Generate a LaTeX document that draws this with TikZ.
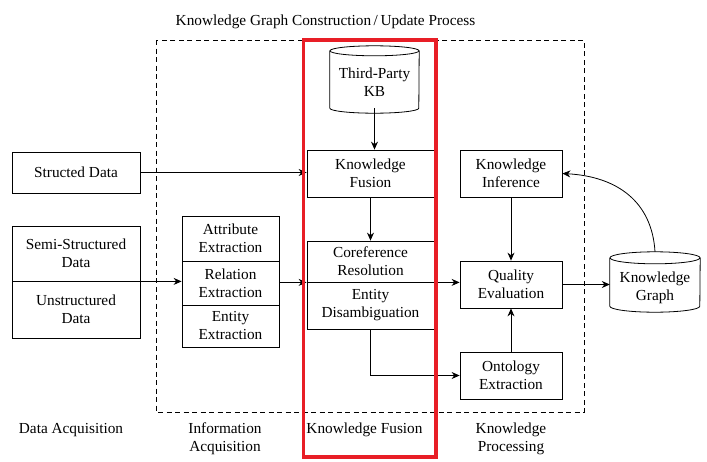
\documentclass[tikz,border=0pt]{standalone}
\usepackage{fontspec}
\setmainfont{Liberation Serif}
\usetikzlibrary{arrows.meta}
\definecolor{redbox}{RGB}{232,30,38}
\begin{document}
\begin{tikzpicture}[x=1pt,y=-1pt,
  txt/.style={font=\fontsize{15.3}{18}\selectfont, align=center, inner sep=0pt},
  box/.style={txt, draw, line width=0.8pt, minimum width=#1},
  box/.default=102,
  body/.style={txt, minimum width=#1},
  arr/.style={line width=0.8pt, -{Stealth[length=8pt,width=7pt]}},
  outline/.style={line width=0.8pt}
]
\useasboundingbox (0,0) rectangle (707,461);

% title
\node[txt] (title) at (325.5,22) {Knowledge Graph Construction\,/\,Update Process};
% dashed frame
\draw[line width=0.8pt, dash pattern=on 5pt off 3.5pt] (156,40) rectangle (584,412);

% data acquisition
\node[box=128, minimum height=41] (sd) at (76,172.5) {Structed Data};
\node[box=128, minimum height=55] (semi) at (76,253.5) {Semi-Structured\\Data};
\node[box=128, minimum height=57] (unstr) at (76,309.5) {Unstructured\\Data};

% information acquisition
\node[box=97, minimum height=45] (attr) at (230.5,238.5) {Attribute\\Extraction};
\node[box=97, minimum height=44] (rel) at (230.5,283) {Relation\\Extraction};
\node[box=97, minimum height=42] (ent) at (230.5,326) {Entity\\Extraction};

% knowledge fusion
\node[body=89, minimum height=52] (kb) at (374.5,82) {Third-Party\\KB};
\draw[outline] ([yshift=5pt]kb.north west) -- (kb.south west)
  arc[start angle=180, end angle=360, x radius=44.5pt, y radius=5pt] -- ([yshift=5pt]kb.north east);
\draw[outline] ([yshift=5pt]kb.north) ellipse[x radius=44.5pt, y radius=5pt];
\node[box=127, minimum height=47] (kf) at (370.5,173.5) {Knowledge\\Fusion};
\node[box=127, minimum height=41] (coref) at (370.5,261.5) {Coreference\\Resolution};
\node[box=127, minimum height=47] (dis) at (370.5,305.5) {Entity\\Disambiguation};

% knowledge processing
\node[box, minimum height=47] (ki) at (511,173.5) {Knowledge\\Inference};
\node[box, minimum height=47] (qe) at (511,284.5) {Quality\\Evaluation};
\node[box, minimum height=47] (oe) at (511,375.5) {Ontology\\Extraction};

% knowledge graph
\node[body=90, minimum height=48] (kg) at (655,288) {Knowledge\\Graph};
\draw[outline] ([yshift=6pt]kg.north west) -- ([yshift=6pt]kg.south west)
  arc[start angle=180, end angle=360, x radius=45pt, y radius=6pt] -- ([yshift=6pt]kg.north east);
\draw[outline] ([yshift=6pt]kg.north) ellipse[x radius=45pt, y radius=6pt];

% connectors
\draw[arr] (sd.east) -- (sd.east -| kf.west);
\draw[arr] (semi.south east) -- (semi.south east -| rel.west);
\draw[arr] (coref.south west -| rel.east) -- (coref.south west);
\draw[arr] (kb.south) -- (kb.south |- kf.north);
\draw[arr] (kf.south) -- (coref.north);
\draw[arr] (coref.south east) -- (coref.south east -| qe.west);
\draw[arr] (dis.south) |- (oe.west);
\draw[arr] (ki.south) -- (qe.north);
\draw[arr] (oe.north) -- (qe.south);
\draw[arr] (qe.east) -- (qe.east -| kg.west);
\draw[arr] ([yshift=12pt]kg.north) .. controls +(-3pt,50pt) and +(55pt,-3pt) .. (ki.east);

% bottom labels
\node[txt] (l1) at (71,430) {Data Acquisition};
\node[txt] (l2) at (225,438.5) {Information\\Acquisition};
\node[txt] (l3) at (364.5,430) {Knowledge Fusion};
\node[txt] (l4) at (511,438.5) {Knowledge\\Processing};

% red highlight
\draw[redbox, line width=3.6pt] (303.5,40) rectangle (436,457);
\end{tikzpicture}
\end{document}
